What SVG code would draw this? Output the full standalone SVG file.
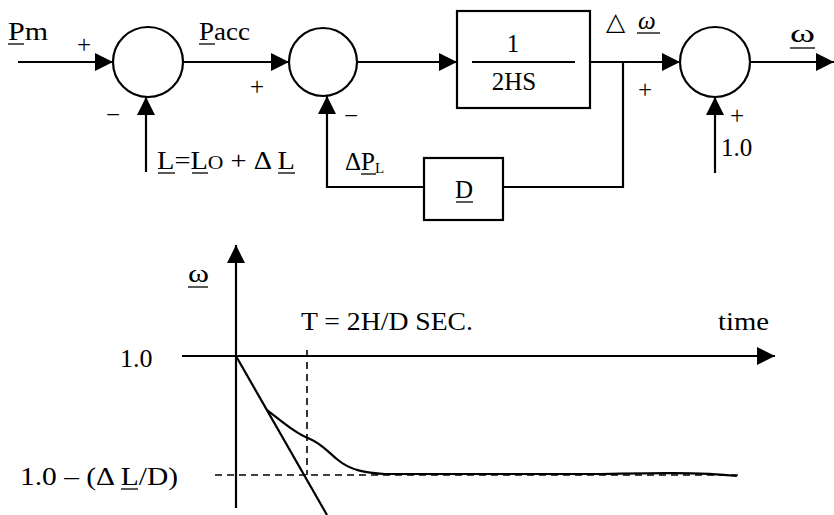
<svg xmlns="http://www.w3.org/2000/svg" width="834" height="515" viewBox="0 0 834 515">
<defs>
<style>
.ln{fill:none;stroke:#000;stroke-width:2.2}
.dash{fill:none;stroke:#000;stroke-width:1.6;stroke-dasharray:7 5}
.t{font-family:"Liberation Serif","Tinos","Times New Roman","DejaVu Serif","Noto Serif",serif;fill:#000;font-size:25px}
.b{font-family:"Liberation Serif","Tinos","Times New Roman","DejaVu Serif","Noto Serif",serif;fill:#000;font-size:26px}
.ul{stroke:#000;stroke-width:1.3}
</style>
<marker id="ah" viewBox="0 0 18 18" refX="18" refY="9" markerWidth="18" markerHeight="18" orient="auto" markerUnits="userSpaceOnUse">
<path d="M0,0 L18,9 L0,18 z" fill="#000"/>
</marker>
</defs>
<rect width="834" height="515" fill="#fff"/>

<g id="sum1"><circle cx="148" cy="62" r="35" class="ln"/></g>
<g id="sum2"><circle cx="323" cy="62" r="34" class="ln"/></g>
<g id="sum3"><circle cx="715" cy="62" r="35" class="ln"/></g>
<g id="block-2hs">
<rect x="457" y="11" width="133" height="97" class="ln"/>
<line x1="472" y1="62" x2="575" y2="62" class="ln"/>
<text class="t" x="513" y="52" text-anchor="middle">1</text>
<text class="t" x="514" y="90" text-anchor="middle">2HS</text>
</g>
<g id="block-d">
<rect x="424" y="158" width="79" height="62" class="ln"/>
<text class="t" x="464" y="198" text-anchor="middle">D</text>
<line x1="456" y1="202" x2="473" y2="202" class="ul"/>
</g>

<g id="connectors">
<line x1="18" y1="62" x2="113" y2="62" class="ln" marker-end="url(#ah)"/>
<line x1="183" y1="62" x2="289" y2="62" class="ln" marker-end="url(#ah)"/>
<line x1="357" y1="62" x2="457" y2="62" class="ln" marker-end="url(#ah)"/>
<line x1="590" y1="62" x2="680" y2="62" class="ln" marker-end="url(#ah)"/>
<line x1="750" y1="62" x2="834" y2="62" class="ln" marker-end="url(#ah)"/>
<line x1="146" y1="172" x2="146" y2="97" class="ln" marker-end="url(#ah)"/>
<line x1="715" y1="173" x2="715" y2="97" class="ln" marker-end="url(#ah)"/>
<polyline points="623,62 623,187 503,187" class="ln"/>
<polyline points="424,187 327,187 327,96" class="ln" marker-end="url(#ah)"/>
</g>

<g id="labels">
<text class="t" x="8" y="40" textLength="40" lengthAdjust="spacingAndGlyphs">Pm</text>
<line x1="8" y1="44" x2="24" y2="44" class="ul"/>
<text class="t" x="77" y="53" font-size="30">+</text>
<text class="t" x="199" y="40" textLength="51" lengthAdjust="spacingAndGlyphs">Pacc</text>
<line x1="199" y1="44" x2="215" y2="44" class="ul"/>
<text class="t" x="106" y="123">−</text>
<text class="t" x="250" y="95" font-size="28">+</text>
<text class="t" x="344" y="124">−</text>
<text class="t" x="157" y="169" font-size="27" textLength="138" lengthAdjust="spacingAndGlyphs">L=L<tspan font-size="19">O</tspan> + Δ L</text>
<line x1="158" y1="173" x2="175" y2="173" class="ul"/>
<line x1="192" y1="173" x2="208" y2="173" class="ul"/>
<line x1="278" y1="173" x2="295" y2="173" class="ul"/>
<text class="t" x="345" y="170">ΔP<tspan font-size="15" dy="3">L</tspan></text>
<line x1="361" y1="174" x2="376" y2="174" class="ul"/>
<text class="t" x="606" y="30" font-size="30">△</text>
<text class="t" x="638" y="29" font-style="italic" font-size="27">ω</text>
<line x1="637" y1="33" x2="660" y2="33" class="ul"/>
<text class="t" x="638" y="98" font-size="28">+</text>
<text class="t" x="730" y="124" font-size="26">+</text>
<text class="t" x="790" y="42" font-size="32" textLength="25" lengthAdjust="spacingAndGlyphs">ω</text>
<line x1="790" y1="48" x2="815" y2="48" class="ul"/>
<text class="t" x="721" y="156" font-size="27">1.0</text>
</g>

<g id="graph">
<line x1="236" y1="508" x2="236" y2="245" class="ln" marker-end="url(#ah)"/>
<line x1="182" y1="356" x2="775" y2="356" class="ln" marker-end="url(#ah)"/>
<line x1="307" y1="350" x2="307" y2="475" class="dash"/>
<line x1="215" y1="475" x2="740" y2="475" class="dash"/>
<line x1="236" y1="356" x2="327" y2="515" class="ln"/>
<path d="M267,410 C285,424 297,434 310,439 C322,444 328,452 338,460 C350,470 365,473 385,474 L600,474 C650,473 700,472 737,476" class="ln"/>
<text class="b" x="188" y="282" font-size="30" textLength="21" lengthAdjust="spacingAndGlyphs">ω</text>
<line x1="188" y1="287" x2="208" y2="287" class="ul"/>
<text class="b" x="120" y="367">1.0</text>
<text class="b" x="301" y="330" textLength="172" lengthAdjust="spacingAndGlyphs">T = 2H/D SEC.</text>
<text class="b" x="718" y="330" textLength="51" lengthAdjust="spacingAndGlyphs">time</text>
<text class="b" x="20" y="485" font-size="28" textLength="158" lengthAdjust="spacingAndGlyphs">1.0 – (Δ L/D)</text>
<line x1="121" y1="489" x2="138" y2="489" class="ul"/>
</g>
</svg>
